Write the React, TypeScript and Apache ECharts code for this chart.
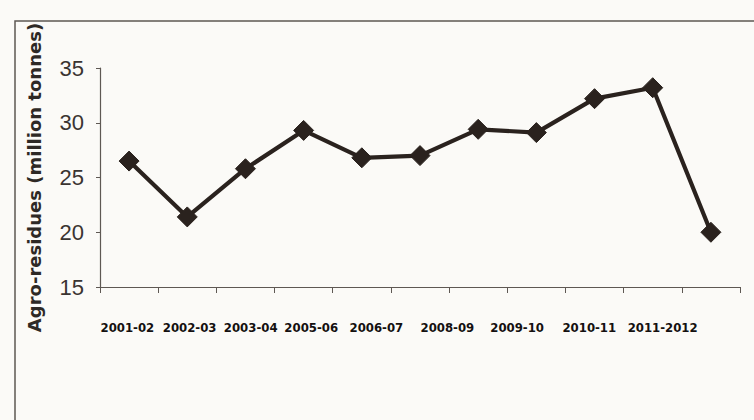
import React, { useEffect, useRef } from "react";
import * as echarts from "echarts";

const categories = [
  "2001-02", "2002-03", "2003-04", "2004-05", "2005-06", "2006-07",
  "2007-08", "2008-09", "2009-10", "2010-11", "2011-2012",
];
const values = [26.5, 21.4, 25.8, 29.3, 26.8, 27.0, 29.4, 29.1, 32.2, 33.2, 20.0];
const tickLabels = [
  "2001-02", "2002-03", "2003-04", "2005-06", "2006-07",
  "2008-09", "2009-10", "2010-11", "2011-2012",
];
const yTicks = [15, 20, 25, 30, 35];

// layout: where the printed labels sit along the axis (in category units)
const labelSlots = [0.47, 1.54, 2.59, 3.63, 4.75, 5.97, 7.17, 8.41, 9.67];

export default function App() {
  const ref = useRef<HTMLDivElement>(null);
  useEffect(() => {
    if (!ref.current) return;
    const chart = echarts.init(ref.current, null, { renderer: "svg" });
    chart.setOption({
      animation: false,
      backgroundColor: "#fbfaf7",
      grid: { left: 100, right: 14, top: 68, bottom: 133 },
      graphic: [
        {
          type: "polyline",
          shape: { points: [[15, 420], [15, 21], [760, 21]] },
          style: { stroke: "#5e5853", lineWidth: 1.5, fill: "none" },
          silent: true,
        },
      ],
      xAxis: [
        {
          type: "category",
          data: categories,
          boundaryGap: true,
          axisLine: { lineStyle: { color: "#5e5853", width: 1.2 } },
          axisTick: { show: true, interval: 0, length: 6, lineStyle: { color: "#5e5853" } },
          axisLabel: { show: false, interval: 0 },
          splitLine: { show: false },
        },
        {
          type: "value",
          min: 0,
          max: 11,
          position: "bottom",
          axisLine: { show: false },
          axisTick: { show: false },
          splitLine: { show: false },
          axisLabel: {
            customValues: labelSlots,
            margin: 34,
            fontFamily: "DejaVu Sans Condensed",
            fontWeight: "bold",
            fontSize: 13,
            color: "#141010",
            formatter: (v: number) => {
              let best = 0;
              labelSlots.forEach((s, i) => {
                if (Math.abs(s - v) < Math.abs(labelSlots[best] - v)) best = i;
              });
              return tickLabels[best];
            },
          },
        },
      ],
      yAxis: {
        type: "value",
        min: yTicks[0],
        max: yTicks[yTicks.length - 1],
        interval: 5,
        name: "Agro-residues (million tonnes)",
        nameLocation: "middle",
        nameGap: 57,
        nameTextStyle: {
          fontFamily: "DejaVu Sans",
          fontWeight: "bold",
          fontSize: 18,
          color: "#2e2925",
        },
        axisLine: { show: true, lineStyle: { color: "#5e5853", width: 1.2 } },
        axisTick: { show: true, length: 4, lineStyle: { color: "#5e5853" } },
        splitLine: { show: false },
        axisLabel: {
          margin: 16,
          fontFamily: "Liberation Sans",
          fontSize: 22,
          color: "#3a3431",
        },
      },
      series: [
        {
          type: "line",
          xAxisIndex: 0,
          data: values,
          symbol: "diamond",
          symbolSize: 20,
          lineStyle: { color: "#2a221e", width: 4.2 },
          itemStyle: { color: "#2a221e", borderColor: "#2a221e" },
        },
      ],
    });
    return () => chart.dispose();
  }, []);
  return (
    <div
      ref={ref}
      style={{ position: "absolute", left: 0, top: 0, width: 754, height: 420 }}
    />
  );
}
